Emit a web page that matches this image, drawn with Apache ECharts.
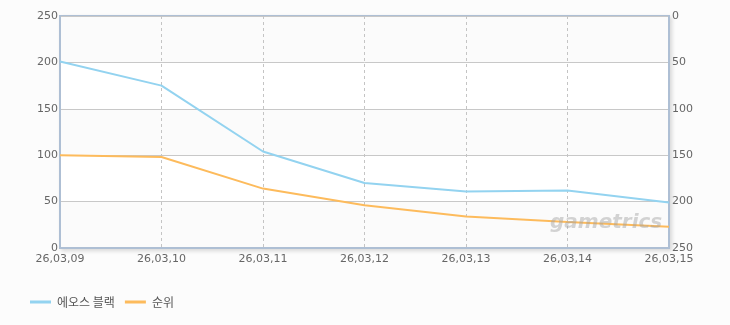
<!DOCTYPE html>
<html><head><meta charset="utf-8">
<script src="https://cdn.jsdelivr.net/npm/echarts@6/dist/echarts.min.js"></script>
<style>html,body{margin:0;padding:0;background:#fcfcfc}#c{width:730px;height:325px}</style>
</head><body><div id="c"></div>
<script>
const categories = ['26,03,09','26,03,10','26,03,11','26,03,12','26,03,13','26,03,14','26,03,15'];
const seriesBlueName = '에오스 블랙';
const seriesBlue = [201, 175, 104, 70, 61, 62, 49];
const seriesRankName = '순위';
const seriesRank = [150, 152, 186, 204, 216, 222, 227];
const leftTicks = [0, 50, 100, 150, 200, 250];

const chart = echarts.init(document.getElementById('c'));
const font = 'DejaVu Sans, sans-serif';
chart.setOption({
  backgroundColor: '#fcfcfc',
  animation: false,
  grid: {left: 60, right: 61, top: 16, bottom: 77, show: true, backgroundColor: '#fff',
    borderColor: '#aebfd4', borderWidth: 2, shadowColor: 'rgba(0,0,0,0.12)', shadowBlur: 4, shadowOffsetX: 2, shadowOffsetY: 2},
  legend: {left: 25, top: 291, itemWidth: 21, itemHeight: 3, itemGap: 10, icon: 'rect',
    textStyle: {color: '#555', fontSize: 12, fontFamily: 'Noto Sans CJK KR, sans-serif', padding: [0, 0, 0, 1]},
    data: [seriesBlueName, seriesRankName]},
  graphic: [{type: 'text', left: 550, top: 213, z: 100,
    style: {text: 'gametrics', font: 'italic bold 20px DejaVu Sans, sans-serif', fill: 'rgba(160,160,160,0.45)'}}],
  xAxis: {type: 'category', data: categories, boundaryGap: false,
    axisLine: {lineStyle: {color: '#aebfd4', width: 2}}, axisTick: {show: false},
    axisLabel: {color: '#666', fontSize: 11, fontFamily: font, margin: 6, interval: 0},
    splitLine: {show: true, lineStyle: {color: '#c4c4c4', type: [3, 3], width: 1}}},
  yAxis: [
    {type: 'value', min: leftTicks[0], max: leftTicks[leftTicks.length-1], interval: 50,
      axisLine: {show: true, lineStyle: {color: '#aebfd4', width: 2}}, axisTick: {show: false},
      axisLabel: {color: '#666', fontSize: 11, fontFamily: font, margin: 2},
      splitLine: {lineStyle: {color: '#c8c8c8'}},
      splitArea: {show: true, areaStyle: {color: ['#fbfbfb', '#ffffff']}}},
    {type: 'value', min: 0, max: 250, interval: 50, inverse: true, position: 'right',
      axisLine: {show: true, lineStyle: {color: '#aebfd4', width: 2}}, axisTick: {show: false},
      axisLabel: {color: '#666', fontSize: 11, fontFamily: font, margin: 3},
      splitLine: {show: false}}
  ],
  series: [
    {name: seriesBlueName, type: 'line', data: seriesBlue, yAxisIndex: 0, symbol: 'none',
      lineStyle: {color: '#93d3f0', width: 2}, itemStyle: {color: '#93d3f0'}},
    {name: seriesRankName, type: 'line', data: seriesRank, yAxisIndex: 1, symbol: 'none',
      lineStyle: {color: '#fdbb5c', width: 2}, itemStyle: {color: '#fdbb5c'}}
  ]
});
</script></body></html>
